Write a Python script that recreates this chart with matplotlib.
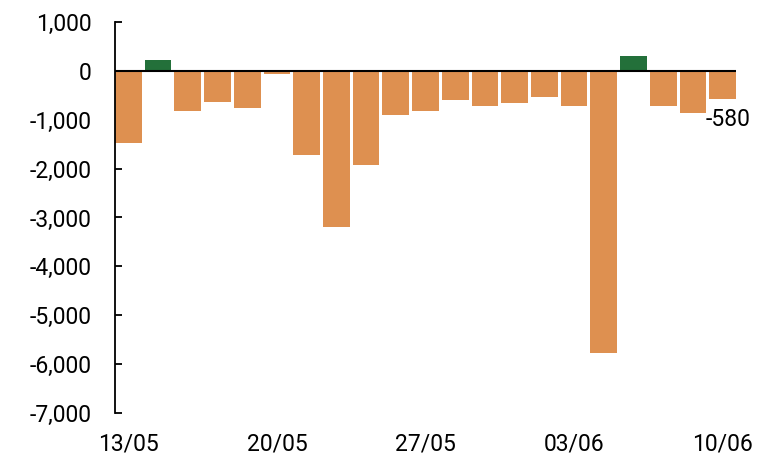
import matplotlib
matplotlib.use("Agg")
import matplotlib.pyplot as plt

plt.rcParams['font.family'] = ['Roboto', 'DejaVu Sans']

# business days 13/05 .. 10/06
dates = ['13/05', '14/05', '15/05', '16/05', '17/05',
         '20/05', '21/05', '22/05', '23/05', '24/05',
         '27/05', '28/05', '29/05', '30/05', '31/05',
         '03/06', '04/06', '05/06', '06/06', '07/06',
         '10/06']
values = [-1480, 220, -830, -630, -750,
          -55, -1730, -3200, -1930, -910,
          -830, -590, -710, -665, -545,
          -710, -5780, 300, -710, -870,
          -580]
tick_idx = [0, 5, 10, 15, 20]

orange = '#de9050'
green = '#23703a'
colors = [green if v > 0 else orange for v in values]

fig = plt.figure(figsize=(7.58, 4.57), dpi=100)
ax = fig.add_axes([0.1517, 0.0963, 0.8193, 0.8556])

x = list(range(len(values)))
ax.bar(x, values, width=0.9, color=colors, zorder=2)
ax.axhline(0, color='black', linewidth=1.5, zorder=3)

ax.set_xlim(-0.45, len(values) - 0.55)
ax.set_ylim(-7000, 1000)
ax.set_yticks(range(-7000, 1001, 1000))
ax.yaxis.set_major_formatter(matplotlib.ticker.FuncFormatter(lambda v, p: f'{int(v):,}'))
ax.set_xticks(tick_idx)
ax.set_xticklabels([dates[i] for i in tick_idx])

for s in ['top', 'right', 'bottom']:
    ax.spines[s].set_visible(False)
ax.spines['left'].set_linewidth(1.3)
ax.tick_params(axis='y', direction='in', length=5, width=1.3, pad=17, labelsize=16.5)
ax.tick_params(axis='x', length=0, pad=14, labelsize=16.5)

ax.annotate(f'{values[-1]:,}', xy=(x[-1], values[-1]), xytext=(4, -6),
            textcoords='offset points', ha='center', va='top', fontsize=16.5)

fig.savefig('out.png', dpi=100)
